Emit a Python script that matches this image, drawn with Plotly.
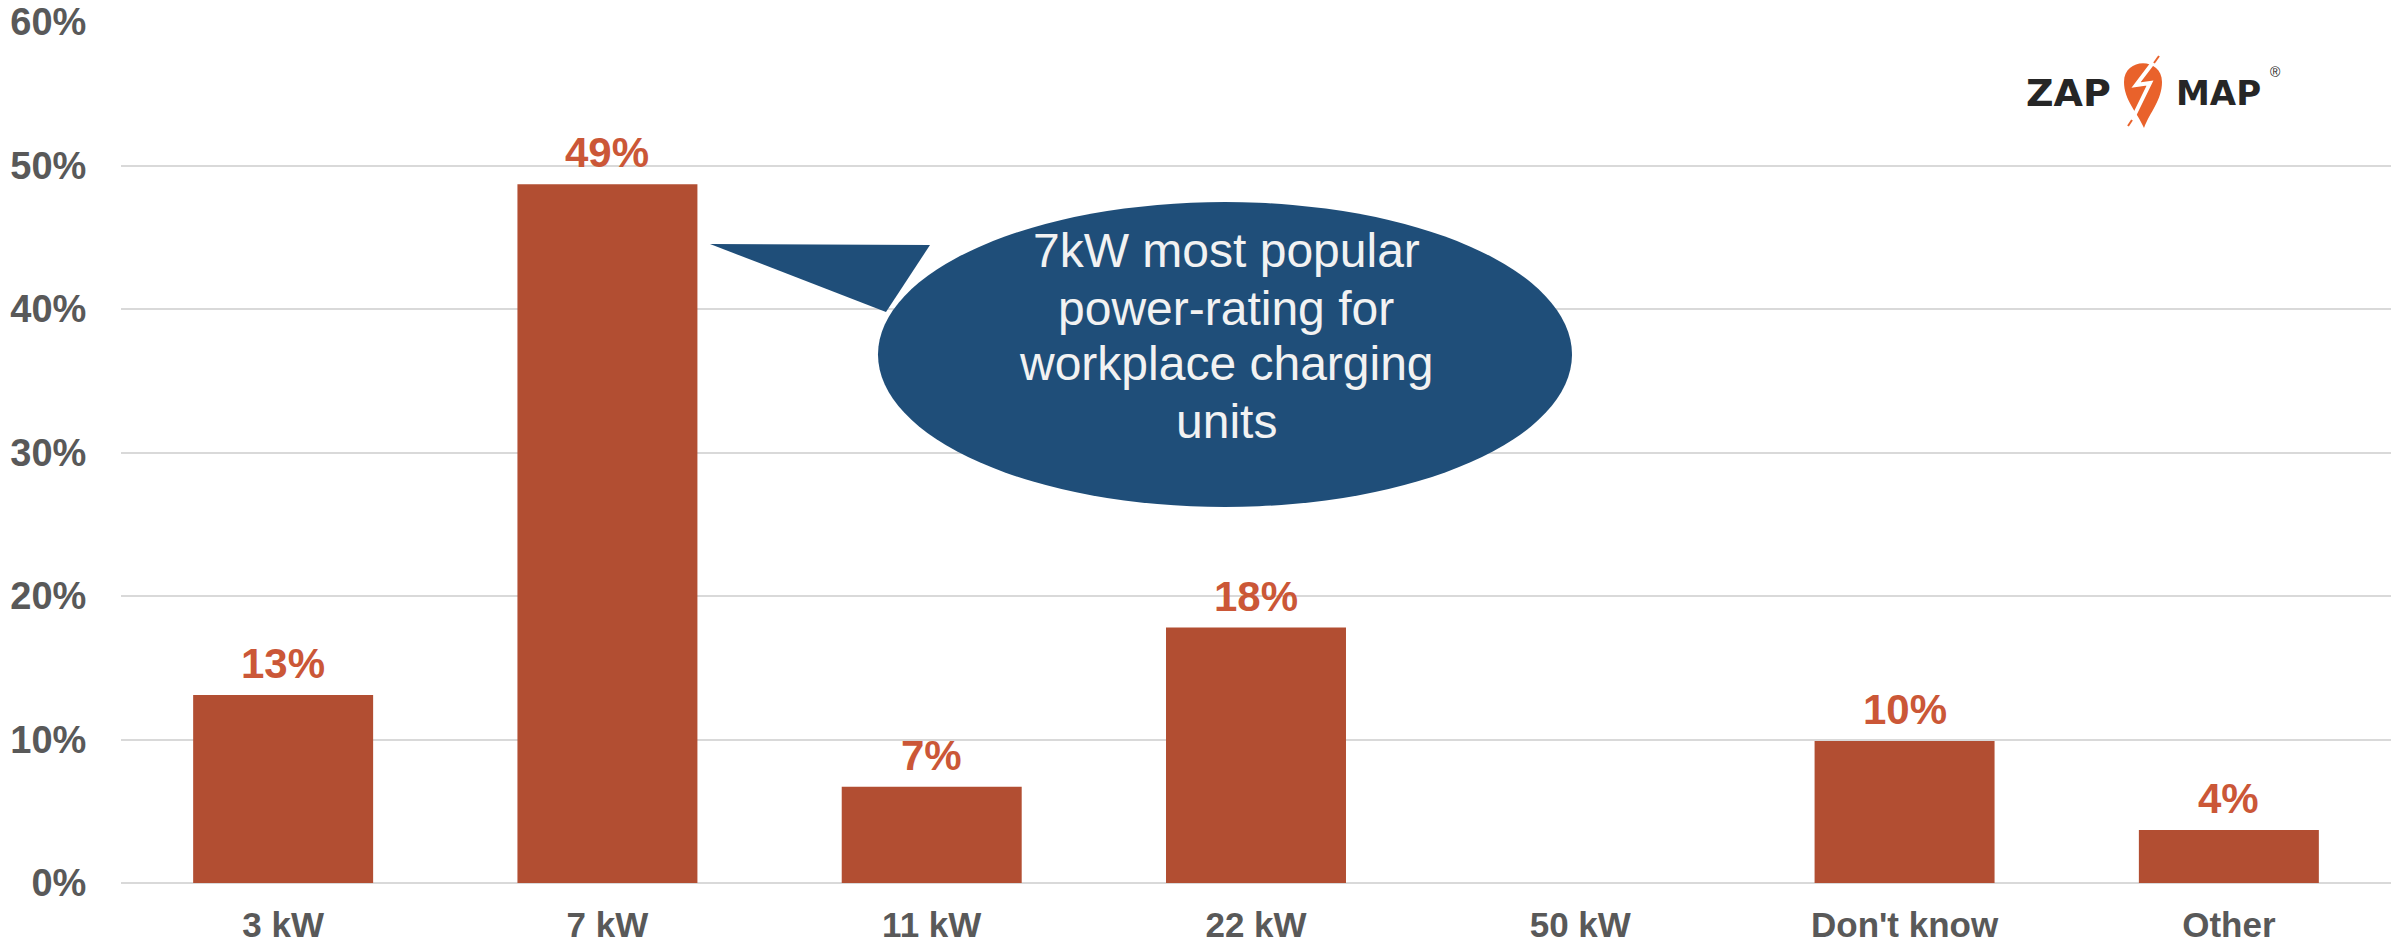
import plotly.graph_objects as go

categories = ["3 kW", "7 kW", "11 kW", "22 kW", "50 kW", "Don't know", "Other"]
values = [13.1, 48.7, 6.7, 17.8, 0.0, 9.9, 3.7]
value_labels = ["13%", "49%", "7%", "18%", "", "10%", "4%"]
y_ticks = [0, 10, 20, 30, 40, 50, 60]
y_tick_labels = ["0%", "10%", "20%", "30%", "40%", "50%", "60%"]
bubble_lines = ["7kW most popular", "power-rating for", "workplace charging", "units"]

W, H = 2397, 945
L, R, T, B = 121, 6, 22, 62
PW = W - L - R
PH = H - T - B


def px(x):
    return (x - L) / PW


def py(y):
    return (H - B - y) / PH


BAR = "#B24E32"
LABEL = "#CB5737"
GRAY = "#595959"
GRID = "#D9D9D9"
BLUE = "#1F4E79"
FONT = "Liberation Sans, Arial, sans-serif"

fig = go.Figure()
fig.add_trace(go.Bar(
    x=categories, y=values, marker=dict(color=BAR, line=dict(width=0)),
    hoverinfo="skip",
))

annotations = []
for c, v, t in zip(categories, values, value_labels):
    if t:
        annotations.append(dict(
            x=c, y=v, xref="x", yref="y", text="<b>%s</b>" % t,
            showarrow=False, xanchor="center", yanchor="bottom", yshift=6,
            font=dict(family=FONT, size=42, color=LABEL)))

shapes = []
# speech-bubble tail
tail = "M {} {} L {} {} L {} {} Z".format(
    px(710), py(244), px(930), py(245), px(886), py(312))
shapes.append(dict(type="path", xref="paper", yref="paper", path=tail,
                   fillcolor=BLUE, line=dict(width=0), layer="above"))
# ellipse
shapes.append(dict(type="circle", xref="paper", yref="paper",
                   x0=px(878), x1=px(1572), y0=py(507), y1=py(202),
                   fillcolor=BLUE, line=dict(width=0), layer="above"))

# logo pin
cx, cy, r = 2143, 82, 19
pin = ("M {} {} ".format(px(cx + 1), py(128)) +
       "C {} {} {} {} {} {} ".format(px(cx - 6), py(112), px(cx - r), py(100), px(cx - r), py(cy)) +
       "C {} {} {} {} {} {} ".format(px(cx - r), py(cy - 25), px(cx + r), py(cy - 25), px(cx + r), py(cy)) +
       "C {} {} {} {} {} {} Z".format(px(cx + r), py(100), px(cx + 7), py(112), px(cx + 1), py(128)))
shapes.append(dict(type="path", xref="paper", yref="paper", path=pin,
                   fillcolor="#E9622B", line=dict(width=0), layer="above"))
bolt = "M {} {} L {} {} L {} {} L {} {}".format(
    px(2155), py(60), px(2136), py(85), px(2150), py(83), px(2132), py(120))
shapes.append(dict(type="path", xref="paper", yref="paper", path=bolt,
                   line=dict(color="white", width=4), layer="above"))
shapes.append(dict(type="line", xref="paper", yref="paper",
                   x0=px(2159), y0=py(56), x1=px(2154), y1=py(63),
                   line=dict(color="#E9622B", width=2), layer="above"))
shapes.append(dict(type="line", xref="paper", yref="paper",
                   x0=px(2132), y0=py(120), x1=px(2128), y1=py(126),
                   line=dict(color="#E9622B", width=2), layer="above"))

bubble_centers = [250, 308, 364, 421]
for line, yc in zip(bubble_lines, bubble_centers):
    annotations.append(dict(
        text=line, xref="paper", yref="paper", x=px(1226), y=py(yc),
        xanchor="center", yanchor="middle", showarrow=False,
        font=dict(family=FONT, size=48, color="#F2F2F2")))

annotations += [
    dict(text="<b>ZAP</b>", xref="paper", yref="paper", x=px(2113), y=py(93),
         xanchor="right", yanchor="middle", showarrow=False,
         font=dict(family="DejaVu Sans, sans-serif", size=38, color="#262626")),
    dict(text="<b>MAP</b>", xref="paper", yref="paper", x=px(2174), y=py(93),
         xanchor="left", yanchor="middle", showarrow=False,
         font=dict(family="DejaVu Sans, sans-serif", size=34, color="#262626")),
    dict(text="®", xref="paper", yref="paper", x=px(2268), y=py(72),
         xanchor="left", yanchor="middle", showarrow=False,
         font=dict(family=FONT, size=14, color="#262626")),
]

fig.update_layout(
    width=W, height=H,
    margin=dict(l=L, r=R, t=T, b=B, autoexpand=False),
    paper_bgcolor="white", plot_bgcolor="white",
    bargap=0.445, showlegend=False,
    font=dict(family=FONT),
    shapes=shapes, annotations=annotations,
    xaxis=dict(
        tickfont=dict(family=FONT, size=35, color=GRAY),
        tickprefix="<b>", ticksuffix="</b>",
        ticks="outside", ticklen=11, tickcolor="rgba(0,0,0,0)",
        showline=False, showgrid=False,
    ),
    yaxis=dict(
        range=[0, 60], tickvals=y_ticks, ticktext=["<b>%s</b>" % t for t in y_tick_labels],
        tickfont=dict(family=FONT, size=38, color=GRAY),
        ticks="outside", ticklen=26, tickcolor="rgba(0,0,0,0)",
        showgrid=True, gridcolor=GRID, gridwidth=2,
        zeroline=True, zerolinecolor=GRID, zerolinewidth=2,
        showline=False,
    ),
)

fig.write_html("out.html", config={"displayModeBar": False},
               post_script="document.body.style.margin='0';document.body.style.overflow='hidden';")
